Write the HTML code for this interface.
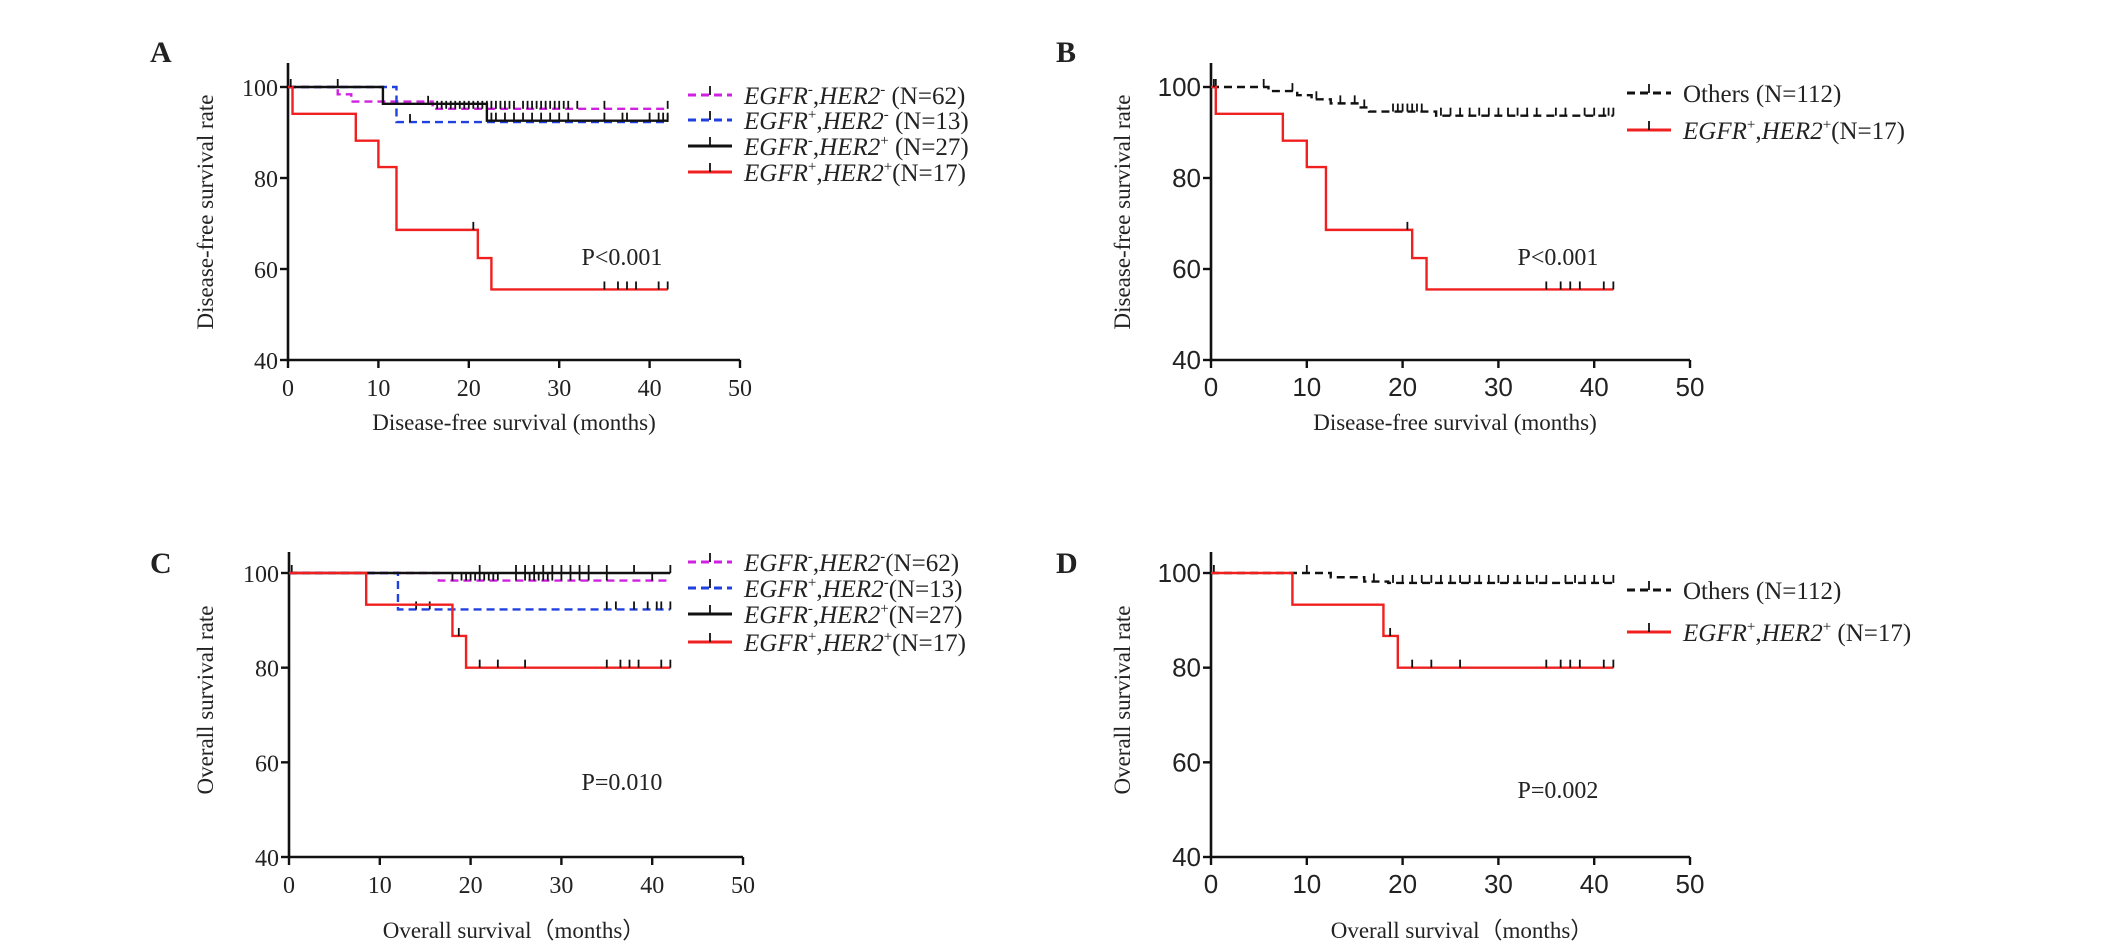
<!DOCTYPE html>
<html><head><meta charset="utf-8"><style>
html,body{margin:0;padding:0;background:#fff}
svg{display:block}
text{font-family:"Liberation Serif",serif;fill:#222}
.sans{font-family:"Liberation Sans",sans-serif}
</style></head><body>
<svg id="fig" width="2126" height="950" viewBox="0 0 2126 950" xmlns="http://www.w3.org/2000/svg"></svg>
<script>
// ---- data (months, survival %) ----
const xTicks=[0,10,20,30,40,50];
const yTicks=[40,60,80,100];
// Panel A (disease-free)
const aNNTimes=[0,5.5,7,16]; const aNNSurv=[100,98.4,96.8,95.2]; const aNNCensor=[16.5,17,17.5,18,18.5,19,19.5,20,20.5,21,21.5,22,22.5,23,23.5,24,24.5,25,26,26.5,27,27.5,28,28.5,29,29.5,30,30.5,31,32,35,42];
const aPNTimes=[0,12]; const aPNSurv=[100,92.3]; const aPNCensor=[13.5,42];
const aNPTimes=[0,10.5,22]; const aNPSurv=[100,96.3,92.6]; const aNPCensor=[5.5,15.5,22.5,23,24,25,26,27,28,29,30,31,35,37,37.5,40,41,41.5,42];
const aPPTimes=[0,0.5,7.5,10,12,21,22.5]; const aPPSurv=[100,94.1,88.2,82.4,68.6,62.4,55.5]; const aPPCensor=[0.3,20.5,35,36.5,37.5,38.5,41,42];
// Panel B
const bOTimes=[0,6,9,10.5,12.5,15.5,16.5,23.5]; const bOSurv=[100,99.1,98.2,97.3,96.4,95.5,94.6,93.7]; const bOCensor=[0.5,5.5,8.5,11,13.5,15,16,19,19.5,20,20.5,21,21.5,22,24,25,26,27,28,29,30,31,32,33,34,36,37,39,40,41,41.5,42];
// Panel C (overall)
const cNNTimes=[0,16.5]; const cNNSurv=[100,98.4]; const cNNCensor=[18,19,19.5,20,20.5,21,21.5,22,22.5,23,25,26,26.5,27,27.5,28,28.5,29,30,31,32,33,35,40];
const cPNTimes=[0,12]; const cPNSurv=[100,92.3]; const cPNCensor=[14,15.5,35,36,38,39.5,40.5,41,42];
const cNPTimes=[0]; const cNPSurv=[100]; const cNPCensor=[0.3,21,25,26,27,28,29,30,31,32,33,35,38,42];
const cPPTimes=[0,8.5,18,19.5]; const cPPSurv=[100,93.3,86.7,80]; const cPPCensor=[18.7,21,23,26,35,36.5,37.5,38.5,41,42];
// Panel D
const dOTimes=[0,12.5,16,18.5]; const dOSurv=[100,99.1,98.2,97.9]; const dOCensor=[0.3,10,17,19,20,21,22,23,24,25,26,27,28,29,30,31,32,33,34,35,37,38,39,40,41,42];
const endTime=42;

const NS="http://www.w3.org/2000/svg";
const svg=document.getElementById('fig');
function el(tag,attrs,parent){const e=document.createElementNS(NS,tag);for(const k in attrs)e.setAttribute(k,attrs[k]);(parent||svg).appendChild(e);return e;}

function makePanel(p){
  const g=el('g',{});
  
  
  const sx=t=>p.x0+t/50*(p.x50-p.x0);
  const sy=v=>p.y40-(v-40)/60*(p.y40-p.y100);
  const cls=p.sans?'sans':'';
  // letter
  const L=el('text',{x:p.lx,y:p.ly,'font-size':30,'font-weight':'bold',fill:'#111'},g);L.textContent=p.id;
  
  
  // axes
  const ax=el('path',{d:`M${sx(0)},${p.top} V${sy(40)} H${sx(50)}`,stroke:'#111','stroke-width':2.6,fill:'none'},g);
  
  
  xTicks.forEach(t=>{
    el('line',{x1:sx(t),x2:sx(t),y1:sy(40),y2:sy(40)+8,stroke:'#111','stroke-width':2.4},g);
    const tx=el('text',{x:sx(t),y:sy(40)+36,'text-anchor':'middle','font-size':p.sans?26:24,class:cls},g);tx.textContent=t;
    
    
  });
  yTicks.forEach(v=>{
    el('line',{x1:sx(0)-8,x2:sx(0),y1:sy(v),y2:sy(v),stroke:'#111','stroke-width':2.4},g);
    const ty=el('text',{x:sx(0)-10,y:sy(v)+9,'text-anchor':'end','font-size':p.sans?26:24,class:cls},g);ty.textContent=v;
    
    
  });
  const xt=el('text',{x:p.xtx,y:p.xty,'text-anchor':'middle','font-size':23},g);xt.textContent=p.xtitle;
  
  
  const yt=el('text',{x:0,y:0,'text-anchor':'middle','font-size':23,transform:`translate(${p.ytx},${p.yty}) rotate(-90)`},g);yt.textContent=p.ytitle;
  
  
  // series
  p.series.forEach(s=>{
    let d=`M${sx(s.t[0])},${sy(s.s[0])}`;
    for(let i=1;i<s.t.length;i++){d+=` H${sx(s.t[i])} V${sy(s.s[i])}`;}
    d+=` H${sx(endTime)}`;
    const path=el('path',{d:d,stroke:s.c,'stroke-width':2.4,fill:'none','stroke-dasharray':s.dash||'none'},g);
    
    
    s.cen.forEach(c=>{
      let v=s.s[0];for(let i=0;i<s.t.length;i++){if(s.t[i]<=c)v=s.s[i];}
      const tk=el('line',{x1:sx(c),x2:sx(c),y1:sy(v)-8,y2:sy(v),stroke:'#111','stroke-width':1.8},g);
      
      
    });
  });
  // P value
  const pv=el('text',{x:p.px,y:p.py,'text-anchor':'middle','font-size':24},g);pv.textContent=p.ptext;
  
  
  // legend
  p.legend.forEach((lg,i)=>{
    const y=p.legY[i];
    const ll=el('line',{x1:p.legX,x2:p.legX+44,y1:y,y2:y,stroke:lg.c,'stroke-width':3,'stroke-dasharray':lg.dash||'none'},g);
    
    
    el('line',{x1:p.legX+22,x2:p.legX+22,y1:y-9,y2:y,stroke:'#111','stroke-width':1.8},g);
    const t=el('text',{x:p.legX+56,y:y+9,'font-size':25},g);
    
    
    if(lg.plain){t.textContent=lg.plain;return;}
    const a=el('tspan',{'font-style':'italic'},t);a.textContent='EGFR';
    const b=el('tspan',{'font-size':15,dy:-10},t);b.textContent=lg.e;
    const c=el('tspan',{dy:10},t);c.textContent=',';
    const d2=el('tspan',{'font-style':'italic'},t);d2.textContent='HER2';
    const e=el('tspan',{'font-size':15,dy:-10},t);e.textContent=lg.h;
    const f=el('tspan',{dy:10},t);f.textContent=lg.n;
  });
}

const legA=[{c:'#d020e0',dash:'8,5',e:'-',h:'-',n:' (N=62)'},{c:'#2040e0',dash:'8,5',e:'+',h:'-',n:' (N=13)'},{c:'#111',e:'-',h:'+',n:' (N=27)'},{c:'#f02020',e:'+',h:'+',n:'(N=17)'}];
const legC=[{c:'#d020e0',dash:'8,5',e:'-',h:'-',n:'(N=62)'},{c:'#2040e0',dash:'8,5',e:'+',h:'-',n:'(N=13)'},{c:'#111',e:'-',h:'+',n:'(N=27)'},{c:'#f02020',e:'+',h:'+',n:'(N=17)'}];

makePanel({id:'A',lx:150,ly:62,x0:288,x50:740,y100:87,y40:360,top:63,sans:false,
  xtitle:'Disease-free survival (months)',xtx:514,xty:430,ytitle:'Disease-free survival rate',ytx:213,yty:212,
  ptext:'P<0.001',px:622,py:265,legX:688,legY:[95,120,146,172],legend:legA,
  series:[{name:'egfr-neg-her2-neg',t:aNNTimes,s:aNNSurv,cen:aNNCensor,c:'#d020e0',dash:'8,5'},
          {name:'egfr-pos-her2-neg',t:aPNTimes,s:aPNSurv,cen:aPNCensor,c:'#2040e0',dash:'8,5'},
          {name:'egfr-neg-her2-pos',t:aNPTimes,s:aNPSurv,cen:aNPCensor,c:'#111'},
          {name:'egfr-pos-her2-pos',t:aPPTimes,s:aPPSurv,cen:aPPCensor,c:'#f02020'}]});
makePanel({id:'B',lx:1056,ly:62,x0:1211,x50:1690,y100:87,y40:360,top:63,sans:true,
  xtitle:'Disease-free survival (months)',xtx:1455,xty:430,ytitle:'Disease-free survival rate',ytx:1130,yty:212,
  ptext:'P<0.001',px:1558,py:265,legX:1627,legY:[93,130],
  legend:[{c:'#111',dash:'8,5',plain:'Others (N=112)'},{c:'#f02020',e:'+',h:'+',n:'(N=17)'}],
  series:[{name:'others',t:bOTimes,s:bOSurv,cen:bOCensor,c:'#111',dash:'8,5'},
          {name:'egfr-pos-her2-pos',t:aPPTimes,s:aPPSurv,cen:aPPCensor,c:'#f02020'}]});
makePanel({id:'C',lx:150,ly:573,x0:289,x50:743,y100:573,y40:857,top:552,sans:false,
  xtitle:'Overall survival\uFF08months\uFF09',xtx:514,xty:938,ytitle:'Overall survival rate',ytx:213,yty:700,
  ptext:'P=0.010',px:622,py:790,legX:688,legY:[562,588,614,642],legend:legC,
  series:[{name:'egfr-neg-her2-neg',t:cNNTimes,s:cNNSurv,cen:cNNCensor,c:'#d020e0',dash:'8,5'},
          {name:'egfr-pos-her2-neg',t:cPNTimes,s:cPNSurv,cen:cPNCensor,c:'#2040e0',dash:'8,5'},
          {name:'egfr-neg-her2-pos',t:cNPTimes,s:cNPSurv,cen:cNPCensor,c:'#111'},
          {name:'egfr-pos-her2-pos',t:cPPTimes,s:cPPSurv,cen:cPPCensor,c:'#f02020'}]});
makePanel({id:'D',lx:1056,ly:573,x0:1211,x50:1690,y100:573,y40:857,top:552,sans:true,
  xtitle:'Overall survival\uFF08months\uFF09',xtx:1462,xty:938,ytitle:'Overall survival rate',ytx:1130,yty:700,
  ptext:'P=0.002',px:1558,py:798,legX:1627,legY:[590,632],
  legend:[{c:'#111',dash:'8,5',plain:'Others (N=112)'},{c:'#f02020',e:'+',h:'+',n:' (N=17)'}],
  series:[{name:'others',t:dOTimes,s:dOSurv,cen:dOCensor,c:'#111',dash:'8,5'},
          {name:'egfr-pos-her2-pos',t:cPPTimes,s:cPPSurv,cen:cPPCensor,c:'#f02020'}]});
</script>
</body></html>
